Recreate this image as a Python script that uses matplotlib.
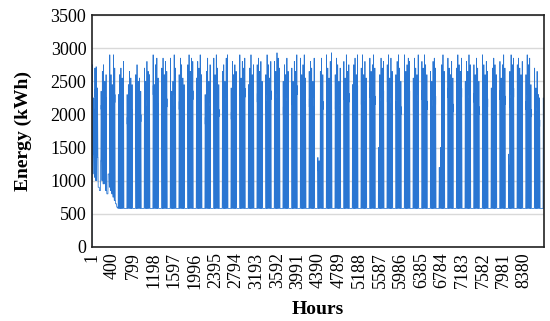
import numpy as np
import matplotlib
matplotlib.use("Agg")
import matplotlib.pyplot as plt

# ---- data (read/estimated from the reference picture) ----
# weekday peak loads (kWh), five working days per week; weekends stay at base load
weekday_peaks = [
    [2750, 2250, 2700, 2720, 2400],
    [2350, 2650, 2750, 2500, 2600],
    [2900, 2600, 2450, 2900, 2700],
    [2300, 2600, 2700, 2550, 2800],
    [2300, 2450, 2650, 2550, 2450],
    [2600, 2750, 2500, 2550, 2350],
    [2700, 2500, 2800, 2650, 2600],
    [2900, 2450, 2750, 2850, 2550],
    [2700, 2850, 2600, 2800, 2650],
    [2850, 2350, 2500, 2900, 2700],
    [2600, 2850, 2750, 2550, 2450],
    [2750, 2900, 2650, 2850, 2800],
    [2550, 2800, 2700, 2900, 2600],
    [2300, 2650, 2850, 2500, 2750],
    [2850, 2600, 2900, 2700, 2450],
    [2650, 2750, 2500, 2850, 2900],
    [2400, 2800, 2600, 2750, 2650],
    [2900, 2550, 2800, 2700, 2850],
    [2450, 2700, 2900, 2600, 2750],
    [2750, 2850, 2650, 2800, 2500],
    [2600, 2900, 2750, 2550, 2800],
    [2800, 2650, 2930, 2850, 2700],
    [2500, 2750, 2600, 2850, 2650],
    [2700, 2500, 2800, 2650, 2900],
    [2850, 2600, 2750, 2900, 2550],
    [2650, 2800, 2700, 2500, 2850],
    [1350, 1300, 2650, 2850, 2600],
    [2900, 2700, 2550, 2800, 2930],
    [2600, 2850, 2750, 2500, 2700],
    [2800, 2550, 2900, 2650, 2750],
    [2450, 2750, 2850, 2600, 2900],
    [2700, 2900, 2600, 2800, 2550],
    [2850, 2650, 2750, 2900, 2700],
    [1500, 2600, 2850, 2700, 2800],
    [2750, 2900, 2550, 2850, 2650],
    [2600, 2800, 2900, 2700, 2500],
    [2900, 2650, 2750, 2850, 2800],
    [2550, 2850, 2700, 2600, 2900],
    [2800, 2700, 2900, 2750, 2600],
    [2650, 2500, 2800, 2850, 2700],
    [1200, 1500, 2750, 2900, 2650],
    [2850, 2700, 2600, 2800, 2550],
    [2700, 2900, 2750, 2650, 2850],
    [2500, 2800, 2650, 2900, 2750],
    [2750, 2600, 2850, 2700, 2500],
    [2900, 2750, 2600, 2800, 2650],
    [2400, 2700, 2850, 2750, 2600],
    [2800, 2550, 2750, 2900, 2700],
    [1400, 2650, 2900, 2750, 2850],
    [2750, 2850, 2700, 2600, 2800],
    [2600, 2900, 2750, 2850, 2450],
    [2700, 2400, 2650, 2300, 2250],
]
last_day_peak = 2250
base_load = 580
# elevated night load during the first winter weeks
winter_night = [1100, 1400, 1050, 1000, 1350, 900, 850, 1300, 1000, 950,
                1250, 850, 800, 1100, 900, 850, 800, 750, 700, 650, 600]
# share of daily rise above base for each hour of a working day
hour_shape = [0, 0, 0, 0, 0, 0, 0.05, 0.3, 0.6, 0.72, 0.8, 1.0,
              0.78, 0.74, 0.8, 0.72, 0.62, 0.48, 0.28, 0.1, 0, 0, 0, 0]

tick_labels = [str(1 + 399 * k) for k in range(22)]

# ---- build hourly series ----
days = []
for wk in weekday_peaks:
    days.extend(wk)
    days.extend([None, None])
days.append(last_day_peak)
days = days[:365]
vals = []
for d, pk in enumerate(days):
    night = winter_night[d] if d < len(winter_night) else base_load
    for h in range(24):
        if pk is None or hour_shape[h] == 0:
            vals.append(night)
        else:
            vals.append(night + (pk - night) * hour_shape[h])
vals = np.array(vals[:8760], dtype=float)
vals[0] = 0
hours = np.arange(1, len(vals) + 1)

# ---- plot ----
fig = plt.figure(figsize=(5.5, 3.21), dpi=100)
ax = fig.add_axes([0.167, 0.231, 0.822, 0.722])
ax.plot(hours, vals, color="#2A76D2", lw=0.55)
ax.set_xlim(0.5, 8760.5)
ax.set_ylim(0, 3500)
ax.set_yticks(np.arange(0, 3501, 500))
ax.yaxis.grid(True, color="#D9D9D9", lw=1)
ax.set_axisbelow(True)
ax.set_xticks([int(t) for t in tick_labels])
ax.set_xticklabels(tick_labels, rotation=90)
ax.tick_params(length=0, labelsize=13, pad=4)
for lab in ax.get_xticklabels() + ax.get_yticklabels():
    lab.set_fontfamily("Liberation Serif")
for s in ax.spines.values():
    s.set_color("#222222")
    s.set_linewidth(1.2)
ax.set_xlabel("Hours", fontfamily="Liberation Serif", fontweight="bold", fontsize=14, labelpad=9)
ax.set_ylabel("Energy (kWh)", fontfamily="Liberation Serif", fontweight="bold", fontsize=14, labelpad=13)
fig.savefig("out.png", dpi=100)
